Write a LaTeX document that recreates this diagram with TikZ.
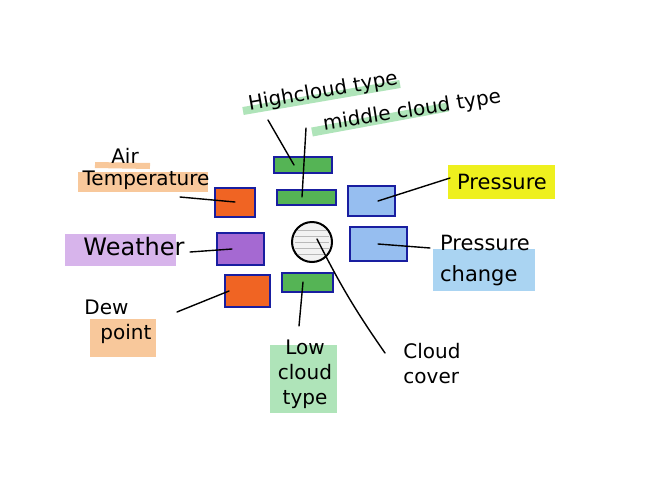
\documentclass[tikz,border=0pt]{standalone}
\usepackage{fontspec}
\setmainfont{DejaVu Sans}
\usepackage{tikz}
\usetikzlibrary{positioning,calc}
\definecolor{InkBlue}{RGB}{25,30,160}
\definecolor{BoxGreen}{RGB}{85,180,85}
\definecolor{BoxOrange}{RGB}{240,100,35}
\definecolor{BoxPurple}{RGB}{165,105,210}
\definecolor{BoxBlue}{RGB}{150,190,240}
\definecolor{HlGreen}{RGB}{175,228,185}
\definecolor{HlOrange}{RGB}{248,200,155}
\definecolor{HlYellow}{RGB}{238,240,30}
\definecolor{HlPurple}{RGB}{215,180,235}
\definecolor{HlBlue}{RGB}{170,212,242}

\begin{document}
\begin{tikzpicture}[x=1pt,y=-1pt,
    box/.style={draw=InkBlue,line width=2pt,inner sep=0pt},
    lbl/.style={font=\fontsize{20}{25}\selectfont,inner sep=1pt},
    pen/.style={line width=1.4pt,line cap=round},
    marker/.style={line width=#1,line cap=butt}]
  \useasboundingbox (0,0) rectangle (656,496);
  \fill[white] (0,0) rectangle (656,496);

  % Marker strokes behind the labels
  \draw[marker=8pt,HlGreen] (243,111) -- (400,84);
  \draw[marker=9pt,HlGreen] (312,132) -- (448,107);
  \draw[marker=6pt,HlOrange] (95,165) -- (150,166);
  \draw[marker=20pt,HlOrange] (78,182) -- (208,182);
  \draw[marker=34pt,HlYellow] (448,182) -- (555,182);
  \draw[marker=32pt,HlPurple] (65,250) -- (176,250);
  \draw[marker=42pt,HlBlue] (433,270) -- (535,270);
  \draw[marker=38pt,HlOrange] (90,338) -- (156,338);
  \draw[marker=68pt,HlGreen] (270,379) -- (337,379);

  % Station model
  \node[box,fill=BoxGreen,minimum width=58pt,minimum height=16pt] (hcBox) at (303,165) {};
  \node[box,fill=BoxGreen,minimum width=59pt,minimum height=15pt] (mcBox) at (306,197) {};
  \node[box,fill=BoxOrange,minimum width=40pt,minimum height=29pt] (atBox) at (235,202) {};
  \node[box,fill=BoxBlue,minimum width=47pt,minimum height=30pt] (prBox) at (371,201) {};
  \node[box,fill=BoxPurple,minimum width=47pt,minimum height=32pt] (wxBox) at (240,249) {};
  \node[box,fill=BoxBlue,minimum width=57pt,minimum height=34pt] (pcBox) at (378,244) {};
  \node[box,fill=BoxOrange,minimum width=45pt,minimum height=32pt] (dpBox) at (247,291) {};
  \node[box,fill=BoxGreen,minimum width=51pt,minimum height=19pt] (lcBox) at (307,282) {};
  \node[circle,draw,line width=2pt,fill=gray!10,minimum size=40pt,inner sep=0pt] (stn) at (312,242) {};
  \begin{scope}
    \clip (stn.center) circle (19pt);
    \foreach \yy in {-12,-6,0,6,12}
      \draw[gray!55,line width=0.5pt] (295,242+\yy) -- (329,242+\yy);
  \end{scope}

  % Labels
  \node[lbl,rotate=10] (hcLbl) at (323,92) {Highcloud type};
  \node[lbl,rotate=9] (mcLbl) at (412,111) {middle cloud type};
  \node[lbl] (atLblA) at (125,156) {Air};
  \node[lbl] (atLblB) at (146,180) {Temperature};
  \node[lbl,font=\fontsize{21}{25}\selectfont] (prLbl) at (502,182) {Pressure};
  \node[lbl,font=\fontsize{24}{28}\selectfont] (wxLbl) at (134,247) {Weather};
  \node[lbl,align=left,font=\fontsize{21}{31}\selectfont] (pcLbl) at (485,261) {Pressure\\change};
  \node[lbl,align=left] (dpLbl) at (118,322) {Dew\\\hspace{0.8em}point};
  \node[lbl,align=center] (lcLbl) at (305,374) {Low\\cloud\\type};
  \node[lbl,align=left] (ccLbl) at (432,364) {Cloud\\cover};

  % Connectors
  \coordinate (hcTip) at (268,120);
  \coordinate (mcTip) at (306,128);
  \coordinate (atTip) at (180,197);
  \coordinate (prTip) at (450,178);
  \coordinate (wxTip) at (190,252);
  \coordinate (pcTip) at (430,248);
  \coordinate (dpTip) at (177,312);
  \coordinate (lcTip) at (299,326);
  \coordinate (ccTip) at (385,353);
  \draw[pen] (hcTip) -- ([xshift=-9pt]hcBox.center);
  \draw[pen] (mcTip) -- ([xshift=-4pt]mcBox.center);
  \draw[pen] (atTip) -- (atBox.center);
  \draw[pen] (prTip) -- ([xshift=7pt]prBox.center);
  \draw[pen] (wxTip) -- ([xshift=-8pt]wxBox.center);
  \draw[pen] (pcTip) -- (pcBox.center);
  \draw[pen] (dpTip) -- ([xshift=-18pt]dpBox.center);
  \draw[pen] (lcTip) -- ([xshift=-4pt]lcBox.center);
  \draw[pen] ([shift={(5pt,3pt)}]stn.center) to[bend right=4] (ccTip);
\end{tikzpicture}
\end{document}
